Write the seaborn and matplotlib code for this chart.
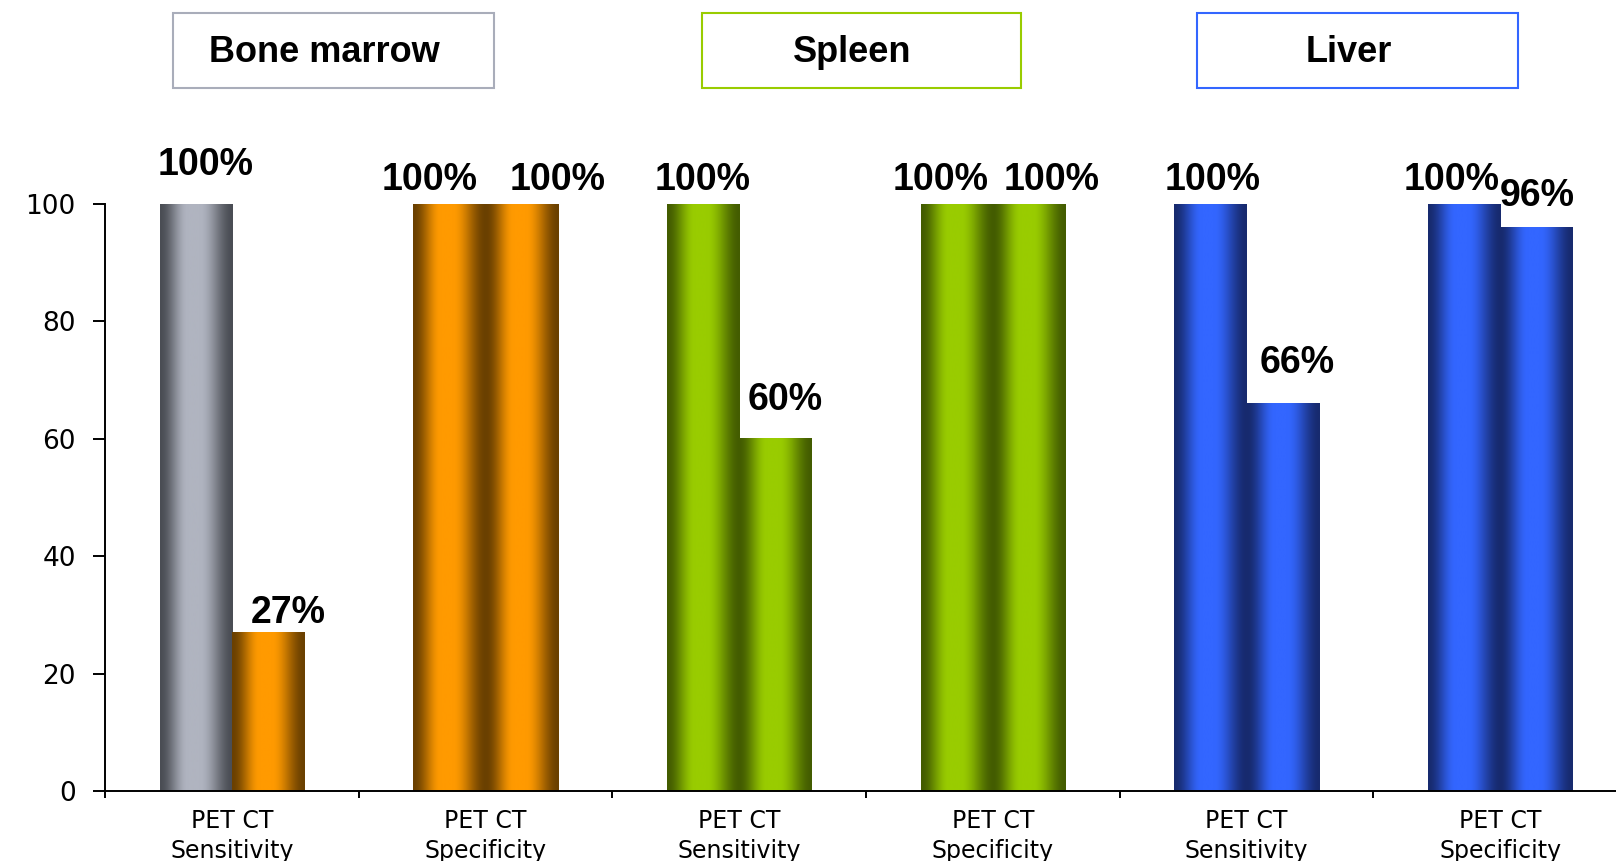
import numpy as np
import pandas as pd
import matplotlib
matplotlib.use('Agg')
import matplotlib.pyplot as plt
from matplotlib.patches import Rectangle
from matplotlib.colors import to_rgb
import seaborn as sns

# data
organs = ['Bone marrow', 'Bone marrow', 'Spleen', 'Spleen', 'Liver', 'Liver']
measures = ['Sensitivity', 'Specificity', 'Sensitivity', 'Specificity', 'Sensitivity', 'Specificity']
pet = [100, 100, 100, 100, 100, 100]
ct = [27, 100, 60, 100, 66, 96]
tick_labels = ['PET CT\n' + m for m in measures]
headers = ['Bone marrow', 'Spleen', 'Liver']

# styling
shades = {
    'grey': ('#4a4d54', '#b0b4c0'),
    'orange': ('#6a4000', '#ff9a00'),
    'green': ('#435c00', '#99cc00'),
    'blue': ('#172a6e', '#3366ff'),
}
pet_shade = ['grey', 'orange', 'green', 'green', 'blue', 'blue']
ct_shade = ['orange', 'orange', 'green', 'green', 'blue', 'blue']
# label nudges in pixels (dx, dy above bar top)
pet_nudge = [(10, 39), (-20, 24), (0, 24), (-16, 24), (2, 24), (-12, 24)]
ct_nudge = [(20, 20), (36, 24), (10, 39), (23, 24), (15, 41), (1, 31)]
header_edges = ['#a9adba', '#99cc00', '#3366ff']
header_boxes = [(173, 494), (702, 1021), (1197, 1518)]

keys = [o + ' ' + m for o, m in zip(organs, measures)]
df = pd.DataFrame({
    'key': keys * 2,
    'value': pet + ct,
    'test': ['PET'] * 6 + ['CT'] * 6,
})

sns.set_style('ticks')
plt.rcParams['font.family'] = ['Liberation Sans', 'DejaVu Sans']
plt.rcParams['text.color'] = 'black'
plt.rcParams['xtick.color'] = 'black'
plt.rcParams['ytick.color'] = 'black'

W, H = 1616, 861
fig = plt.figure(figsize=(W / 100, H / 100), dpi=100)
ax = fig.add_axes([105 / W, 1 - 791 / H, (1627 - 105) / W, (791 - 204) / H])

sns.barplot(data=df, x='key', y='value', hue='test', hue_order=['PET', 'CT'],
            order=keys, width=0.57, gap=0, dodge=True, ax=ax, legend=False,
            linewidth=0, saturation=1)


def smooth(u):
    u = np.clip(u, 0, 1)
    return u * u * (3 - 2 * u)


def gradient(name):
    dark, light = np.array(to_rgb(shades[name][0])), np.array(to_rgb(shades[name][1]))
    t = np.linspace(0, 1, 200)
    # dark edges, light band a little left of centre
    f = np.where(t < 0.38, smooth(t / 0.38), smooth((1 - t) / 0.45))
    return dark[None, :] + (light - dark)[None, :] * f[:, None]


for cont, shade_list, vals, nudges in zip(ax.containers, [pet_shade, ct_shade],
                                          [pet, ct], [pet_nudge, ct_nudge]):
    for bar, name, v, (dx, dy) in zip(cont, shade_list, vals, nudges):
        x0, w, h = bar.get_x(), bar.get_width(), bar.get_height()
        bar.set_alpha(0)
        ax.imshow(gradient(name)[None, :, :], extent=[x0, x0 + w, 0, h],
                  aspect='auto', interpolation='bilinear', zorder=2)
        ax.annotate(f'{v}%', (x0 + w / 2, h), xytext=(dx, dy),
                    textcoords='offset pixels', ha='center', va='center',
                    fontsize=27, fontweight='bold', annotation_clip=False)

ax.set_xlim(-0.5, 5.5)
ax.set_ylim(0, 100)
ax.set_yticks([0, 20, 40, 60, 80, 100])
ax.tick_params(axis='y', labelsize=19, length=9, width=1.4, pad=12)
for lab in ax.get_yticklabels():
    lab.set_family('DejaVu Sans')
ax.set_xticks(range(6))
ax.set_xticklabels(tick_labels, fontsize=17, linespacing=1.3)
for lab in ax.get_xticklabels():
    lab.set_family('DejaVu Sans')
ax.tick_params(axis='x', length=0, pad=13)
ax.set_xticks(np.arange(-0.5, 6, 1), minor=True)
ax.tick_params(axis='x', which='minor', length=5, width=1.4)
ax.set_xlabel('')
ax.set_ylabel('')
sns.despine(ax=ax)
for s in ['left', 'bottom']:
    ax.spines[s].set_linewidth(1.4)
    ax.spines[s].set_color('black')

for text, edge, (xl, xr) in zip(headers, header_edges, header_boxes):
    fig.add_artist(Rectangle((xl / W, 1 - 88 / H), (xr - xl) / W, 75 / H,
                             transform=fig.transFigure, fill=False,
                             edgecolor=edge, linewidth=1.5))
    fig.text((xl + xr) / 2 / W - 9 / W, 1 - 53 / H, text, ha='center', va='center',
             fontsize=26, fontweight='bold')

fig.savefig('out.png', dpi=100)
